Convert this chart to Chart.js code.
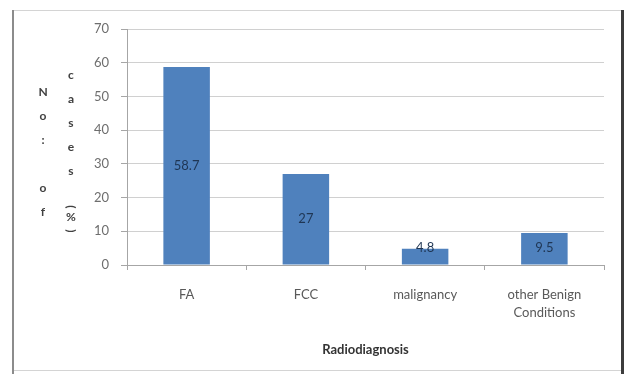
<!DOCTYPE html>
<html>
<head>
<meta charset="utf-8">
<script src="https://cdn.jsdelivr.net/npm/chart.js@4/dist/chart.umd.min.js"></script>
<style>
  html, body { margin: 0; padding: 0; background: #ffffff; }
  #wrap { width: 629px; height: 374px; position: relative; }
</style>
</head>
<body>
<div id="wrap"><canvas id="c" width="629" height="374"></canvas></div>
<script>
// Radiodiagnosis breakdown, percentage of cases
const categories = ['FA', 'FCC', 'malignancy', ['other Benign', 'Conditions']];
const percentages = [58.7, 27, 4.8, 9.5];
const yTicks = [0, 10, 20, 30, 40, 50, 60, 70];
const xTitle = 'Radiodiagnosis';
const yTitleColumns = ['No: of', 'cases (%)'];

const FONT = 'Lato, "Open Sans", "DejaVu Sans", sans-serif';
const BAR_BLUE = '#4f81bd';

// Outer frame around the whole chart
const framePlugin = {
  id: 'frame',
  beforeDraw(chart) {
    const ctx = chart.ctx;
    ctx.save();
    ctx.fillStyle = '#ffffff';
    ctx.fillRect(0, 0, chart.width, chart.height);
    ctx.lineWidth = 1;
    ctx.strokeStyle = '#d4d4d4';
    ctx.beginPath();
    ctx.moveTo(12, 10.5); ctx.lineTo(622, 10.5);
    ctx.moveTo(12, 370.5); ctx.lineTo(622, 370.5);
    ctx.stroke();
    ctx.lineWidth = 2;
    ctx.strokeStyle = '#8c8c8c';
    ctx.beginPath();
    ctx.moveTo(13, 10); ctx.lineTo(13, 374);
    ctx.stroke();
    ctx.lineWidth = 3;
    ctx.strokeStyle = '#3c3c3c';
    ctx.beginPath();
    ctx.moveTo(622.5, 10); ctx.lineTo(622.5, 374);
    ctx.stroke();
    ctx.restore();
  }
};

// Y-axis title written as stacked characters in two columns
const stackedTitlePlugin = {
  id: 'stackedTitle',
  afterDraw(chart) {
    const ctx = chart.ctx;
    ctx.save();
    ctx.font = 'bold 12px ' + FONT;
    ctx.fillStyle = '#404040';
    ctx.textAlign = 'center';
    ctx.textBaseline = 'middle';
    const cols = [{ x: 43, y0: 92 }, { x: 71, y0: 75 }];
    const step = 24;
    yTitleColumns.forEach((text, ci) => {
      let y = cols[ci].y0;
      const x = cols[ci].x;
      for (const ch of text) {
        if (ch === '(' || ch === ')') {
          ctx.save();
          ctx.translate(x, y + 2);
          ctx.rotate(Math.PI / 2);
          ctx.fillText(ch, 0, 0);
          ctx.restore();
          y += 12;
        } else if (ch === ' ' && ci === 1) {
          y += 10;
        } else {
          ctx.fillText(ch, x, y);
          y += (ch === '%') ? 12 : step;
        }
      }
    });
    ctx.restore();
  }
};

// Value written in the middle of each bar
const valueLabelPlugin = {
  id: 'valueLabels',
  afterDatasetsDraw(chart) {
    const ctx = chart.ctx;
    const meta = chart.getDatasetMeta(0);
    ctx.save();
    ctx.font = '13px ' + FONT;
    ctx.fillStyle = '#1f3654';
    ctx.textAlign = 'center';
    ctx.textBaseline = 'middle';
    meta.data.forEach((bar, i) => {
      const v = chart.data.datasets[0].data[i];
      const mid = (bar.y + bar.base) / 2;
      const y = Math.min(mid, bar.base - 17);
      ctx.fillText(String(v), bar.x, y);
    });
    ctx.restore();
  }
};

new Chart(document.getElementById('c'), {
  type: 'bar',
  data: {
    labels: categories,
    datasets: [{
      data: percentages,
      backgroundColor: BAR_BLUE,
      borderWidth: 0,
      barPercentage: 0.39,
      categoryPercentage: 1.0
    }]
  },
  options: {
    responsive: false,
    devicePixelRatio: 1,
    animation: false,
    events: [],
    layout: { padding: { top: 29, right: 25, left: 0, bottom: 0 } },
    plugins: {
      legend: { display: false },
      tooltip: { enabled: false }
    },
    scales: {
      y: {
        min: 0,
        max: 70,
        afterFit(scale) { scale.width = 127; },
        afterBuildTicks(scale) { scale.ticks = yTicks.map(v => ({ value: v })); },
        border: { color: '#a6a6a6', width: 1 },
        grid: { color: '#d0d0d0', tickLength: 6, tickColor: '#a6a6a6' },
        ticks: {
          color: '#6e6e6e',
          font: { family: FONT, size: 13 },
          padding: 12
        }
      },
      x: {
        afterFit(scale) { scale.height = 109; },
        border: { color: '#a6a6a6', width: 1 },
        grid: { drawOnChartArea: false, offset: true, tickLength: 5, tickColor: '#a6a6a6' },
        ticks: {
          color: '#595959',
          font: { family: FONT, size: 13, lineHeight: 1.4 },
          padding: 16,
          maxRotation: 0,
          autoSkip: false
        },
        title: {
          display: true,
          text: xTitle,
          color: '#333333',
          font: { family: FONT, size: 13, weight: 'bold' },
          padding: { top: 4, bottom: 16 }
        }
      }
    }
  },
  plugins: [framePlugin, stackedTitlePlugin, valueLabelPlugin]
});
</script>
</body>
</html>
